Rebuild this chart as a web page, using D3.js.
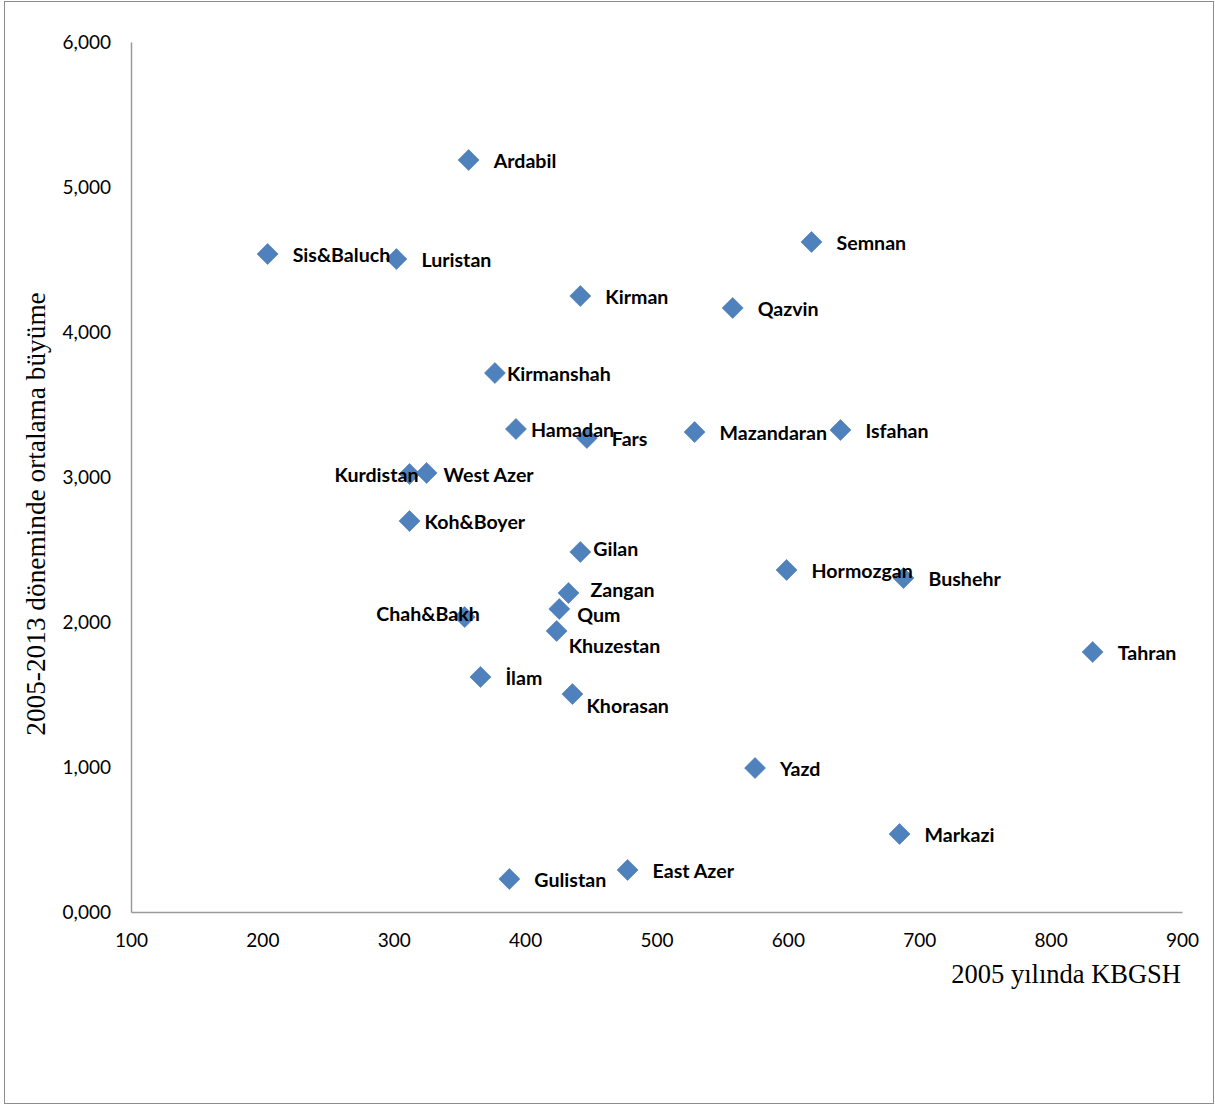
<!DOCTYPE html>
<html><head><meta charset="utf-8">
<script src="https://cdn.jsdelivr.net/npm/d3@7"></script>
<style>body{margin:0;background:#fff}svg{display:block}</style>
</head><body>
<svg id="chart" width="1215" height="1106"></svg>
<script>
const provinces = ["Ardabil","Sis&Baluch","Luristan","Semnan","Kirman","Qazvin","Kirmanshah","Hamadan","Fars","Mazandaran","Isfahan","Kurdistan","West Azer","Koh&Boyer","Gilan","Hormozgan","Bushehr","Zangan","Qum","Chah&Bakh","Khuzestan","Tahran","İlam","Khorasan","Yazd","Markazi","East Azer","Gulistan"];
const kbgsh2005 = [357,204,302,618,442,558,377,393,447,529,640,312,325,312,442,599,688,433,426,354,424,832,366,436,575,685,478,388];
const growth0513 = [5186,4538,4503,4621,4248,4166,3717,3331,3269,3310,3324,3021,3028,2697,2483,2359,2303,2200,2090,2034,1938,1793,1621,1503,993,538,290,228];
const xTicks = [100,200,300,400,500,600,700,800,900];
const xTickLabels = ["100","200","300","400","500","600","700","800","900"];
const yTicks = [0,1000,2000,3000,4000,5000,6000];
const yTickLabels = ["0,000","1,000","2,000","3,000","4,000","5,000","6,000"];
const xTitle = "2005 yılında KBGSH";
const yTitle = "2005-2013 döneminde ortalama büyüme";

// label placement (layout only): [dx, dy, anchor]
const labelPlace = {
  "Kirmanshah":[12,1,"start"],"Hamadan":[15,1,"start"],"Kurdistan":[9,1,"end"],
  "West Azer":[17,2,"start"],"Koh&Boyer":[15,1,"start"],"Gilan":[13,-3,"start"],
  "Zangan":[22,-3,"start"],"Qum":[18,6,"start"],"Chah&Bakh":[15,-3,"end"],
  "Khuzestan":[12,15,"start"],"Khorasan":[14,12,"start"]
};

const svg = d3.select("#chart");
svg.append("rect").attr("x",4.5).attr("y",1.5).attr("width",1209).attr("height",1102)
  .attr("fill","#fff").attr("stroke","#8c8c8c").attr("stroke-width",1);

const x = d3.scaleLinear().domain([100,900]).range([131,1182]);
const y = d3.scaleLinear().domain([0,6000]).range([912,42]);

const xAxis = d3.axisBottom(x).tickValues(xTicks).tickSize(0).tickPadding(22)
  .tickFormat((d,i)=>xTickLabels[i]);
const yAxis = d3.axisLeft(y).tickValues(yTicks).tickSize(0).tickPadding(20)
  .tickFormat((d,i)=>yTickLabels[i]);

const gx = svg.append("g").attr("transform","translate(0,912)").call(xAxis);
const gy = svg.append("g").attr("transform","translate(131,0)").call(yAxis);
[gx,gy].forEach(g=>{
  g.select(".domain").attr("stroke","#9a9a9a").attr("stroke-width",1.5);
  g.selectAll("text").attr("font-family","Lato, 'Open Sans', sans-serif").attr("font-size",19).attr("fill","#000");
});
gy.selectAll("text").attr("dy","0.35em");
gx.selectAll("text").attr("dy","0.71em");

svg.append("text").attr("x",1181).attr("y",983).attr("text-anchor","end")
  .attr("font-family","'Liberation Serif','Times New Roman',serif").attr("font-size",26.5)
  .text(xTitle);
svg.append("text").attr("transform","translate(45,514) rotate(-90)").attr("text-anchor","middle")
  .attr("font-family","'Liberation Serif','Times New Roman',serif").attr("font-size",27.3)
  .text(yTitle);

const data = provinces.map((p,i)=>({name:p,x:kbgsh2005[i],y:growth0513[i]}));
const sym = d3.symbol().type(d3.symbolSquare).size(220);

svg.append("g").selectAll("path").data(data).join("path")
  .attr("d",sym)
  .attr("transform",d=>`translate(${x(d.x)},${y(d.y)}) rotate(45)`)
  .attr("fill","#4f81bd").attr("stroke","#4a7ab5").attr("stroke-width",0.6);

svg.append("g").selectAll("text").data(data).join("text")
  .attr("x",d=>x(d.x)+(labelPlace[d.name]?labelPlace[d.name][0]:25))
  .attr("y",d=>y(d.y)+(labelPlace[d.name]?labelPlace[d.name][1]:1))
  .attr("dy","0.35em")
  .attr("text-anchor",d=>labelPlace[d.name]?labelPlace[d.name][2]:"start")
  .attr("font-family","Lato, 'Open Sans', sans-serif").attr("font-weight","bold")
  .attr("font-size",19.6).attr("fill","#000")
  .text(d=>d.name);
</script>
</body></html>
